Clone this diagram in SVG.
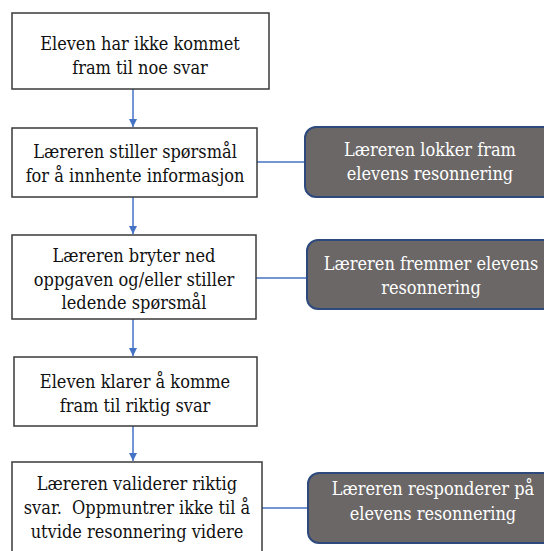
<svg xmlns="http://www.w3.org/2000/svg" width="544" height="551" viewBox="0 0 544 551">
<style>
.box{fill:#ffffff;stroke:#3a3a3a;stroke-width:1.5}
.rbox{fill:#6b6767;stroke:#2e4a7d;stroke-width:2}
.t{fill:#111111}
.w{fill:#ffffff}
.c{stroke:#4472c4;stroke-width:1.5;fill:none}
</style>
<defs>
<marker id="ah" viewBox="0 0 10 10" refX="10" refY="5" markerWidth="8" markerHeight="9" markerUnits="userSpaceOnUse" orient="auto">
<path d="M0,0 L10,5 L0,10 z" fill="#4472c4"/>
</marker>
</defs>
<rect width="544" height="551" fill="#ffffff"/>
<g id="connectors">
<line class="c" x1="133" y1="89" x2="133" y2="127" marker-end="url(#ah)"/>
<line class="c" x1="133" y1="197" x2="133" y2="234" marker-end="url(#ah)"/>
<line class="c" x1="133" y1="319" x2="133" y2="356" marker-end="url(#ah)"/>
<line class="c" x1="133" y1="426" x2="133" y2="461" marker-end="url(#ah)"/>
<line class="c" x1="257" y1="162" x2="305" y2="162"/>
<line class="c" x1="256" y1="278" x2="307" y2="278"/>
<line class="c" x1="262" y1="508" x2="308" y2="508"/>
</g>
<g font-family="DejaVu Serif Condensed, DejaVu Serif, serif" font-stretch="condensed" font-size="18" text-anchor="middle">
<g id="n1">
<rect class="box" x="12" y="13" width="257" height="76"/>
<text class="t" x="140" y="50">Eleven har ikke kommet</text>
<text class="t" x="140" y="74">fram til noe svar</text>
</g>
<g id="n2">
<rect class="box" x="12" y="128" width="245" height="69"/>
<text class="t" x="135" y="158">Læreren stiller spørsmål</text>
<text class="t" x="135" y="182">for å innhente informasjon</text>
</g>
<g id="n3">
<rect class="box" x="12" y="235" width="244" height="84"/>
<text class="t" x="134" y="262">Læreren bryter ned</text>
<text class="t" x="134" y="286">oppgaven og/eller stiller</text>
<text class="t" x="134" y="309">ledende spørsmål</text>
</g>
<g id="n4">
<rect class="box" x="14" y="357" width="243" height="69"/>
<text class="t" x="135" y="388">Eleven klarer å komme</text>
<text class="t" x="135" y="412">fram til riktig svar</text>
</g>
<g id="n5">
<rect class="box" x="12" y="462" width="250" height="100"/>
<text class="t" x="137" y="490">Læreren validerer riktig</text>
<text class="t" x="137" y="514">svar.&#160; Oppmuntrer ikke til å</text>
<text class="t" x="137" y="538">utvide resonnering videre</text>
</g>
<g id="r1">
<rect class="rbox" x="305" y="127" width="250" height="70" rx="11"/>
<text class="w" x="430" y="156">Læreren lokker fram</text>
<text class="w" x="430" y="180">elevens resonnering</text>
</g>
<g id="r2">
<rect class="rbox" x="307" y="240" width="248" height="69" rx="11"/>
<text class="w" x="431" y="270">Læreren fremmer elevens</text>
<text class="w" x="431" y="294">resonnering</text>
</g>
<g id="r3">
<rect class="rbox" x="308" y="473" width="247" height="70" rx="11"/>
<text class="w" x="433" y="495">Læreren responderer på</text>
<text class="w" x="433" y="520">elevens resonnering</text>
</g>
</g>
</svg>
